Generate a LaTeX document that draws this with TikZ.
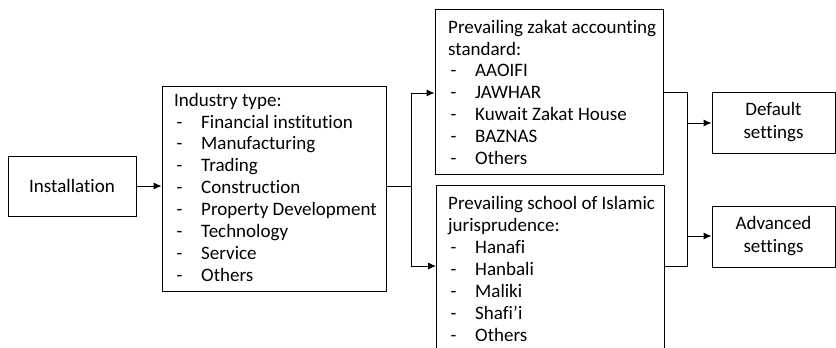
\documentclass[tikz,border=0pt]{standalone}
\usepackage{fontspec}
\setmainfont{Carlito}[Ligatures=NoCommon]
\usetikzlibrary{arrows.meta}
% list item: indented dash, then the entry at a fixed tab
\newcommand\itm[1]{\hspace*{2.5pt}\makebox[24.5pt][l]{-}#1}
% fixes the height of a text block's first line
\newcommand\firstline{\rule{0pt}{16pt}}
\begin{document}
\begin{tikzpicture}[x=1pt,y=1pt,
  box/.style={draw, line width=0.9pt, inner sep=0pt},
  txt/.style={inner sep=0pt, align=left, anchor=north west, font=\fontsize{19}{21.9}\selectfont},
  ctr/.style={align=center, font=\fontsize{19}{23}\selectfont},
  link/.style={line width=0.9pt},
  arr/.style={link, -{Latex[length=8pt,width=7pt]}}]
\useasboundingbox (0,0) rectangle (836,348);
\clip (0,0) rectangle (836,348);

% boxes
\node[box, ctr, minimum width=128, minimum height=60] (inst) at (72,162) {Installation};
\node[box, minimum width=224, minimum height=205] (ind) at (274,159.5) {};
\node[txt] (indtxt) at (174,258) {\firstline Industry type:\\
  \itm{Financial institution}\\
  \itm{Manufacturing}\\
  \itm{Trading}\\
  \itm{Construction}\\
  \itm{Property Development}\\
  \itm{Technology}\\
  \itm{Service}\\
  \itm{Others}};

\node[box, minimum width=228, minimum height=165] (zak) at (549,256.5) {};
\node[txt] (zaktxt) at (448,331) {\firstline Prevailing zakat accounting\\
  standard:\\
  \itm{AAOIFI}\\
  \itm{JAWHAR}\\
  \itm{Kuwait Zakat House}\\
  \itm{BAZNAS}\\
  \itm{Others}};

\node[box, minimum width=228, minimum height=190, anchor=north west] (sch) at (436,163) {};
\node[txt] (schtxt) at (448,154.5) {\firstline Prevailing school of Islamic\\
  jurisprudence:\\
  \itm{Hanafi}\\
  \itm{Hanbali}\\
  \itm{Maliki}\\
  \itm{Shafi’i}\\
  \itm{Others}};

\node[box, ctr, minimum width=123, minimum height=61] (def) at (773.5,225.5) {Default\\settings};
\node[box, ctr, minimum width=123, minimum height=61] (adv) at (773.5,111.5) {Advanced\\settings};

% junction points
\coordinate (j1) at (411,162);
\coordinate (j1a) at (411,255);
\coordinate (j1b) at (411,82);
\coordinate (j2a) at (687,256);
\coordinate (j2b) at (687,82);
\coordinate (j2c) at (687,225);
\coordinate (j2d) at (687,112);

% connectors
\draw[arr] (inst.east) -- (inst.east -| ind.west);
\draw[link] (j1 -| ind.east) -- (j1);
\draw[link] (j1a) -- (j1b);
\draw[arr] (j1a) -- (j1a -| zak.west);
\draw[arr] (j1b) -- (j1b -| sch.west);
\draw[link] (j2a -| zak.east) -- (j2a) -- (j2b) -- (j2b -| sch.east);
\draw[arr] (j2c) -- (j2c -| def.west);
\draw[arr] (j2d) -- (j2d -| adv.west);
\end{tikzpicture}
\end{document}
